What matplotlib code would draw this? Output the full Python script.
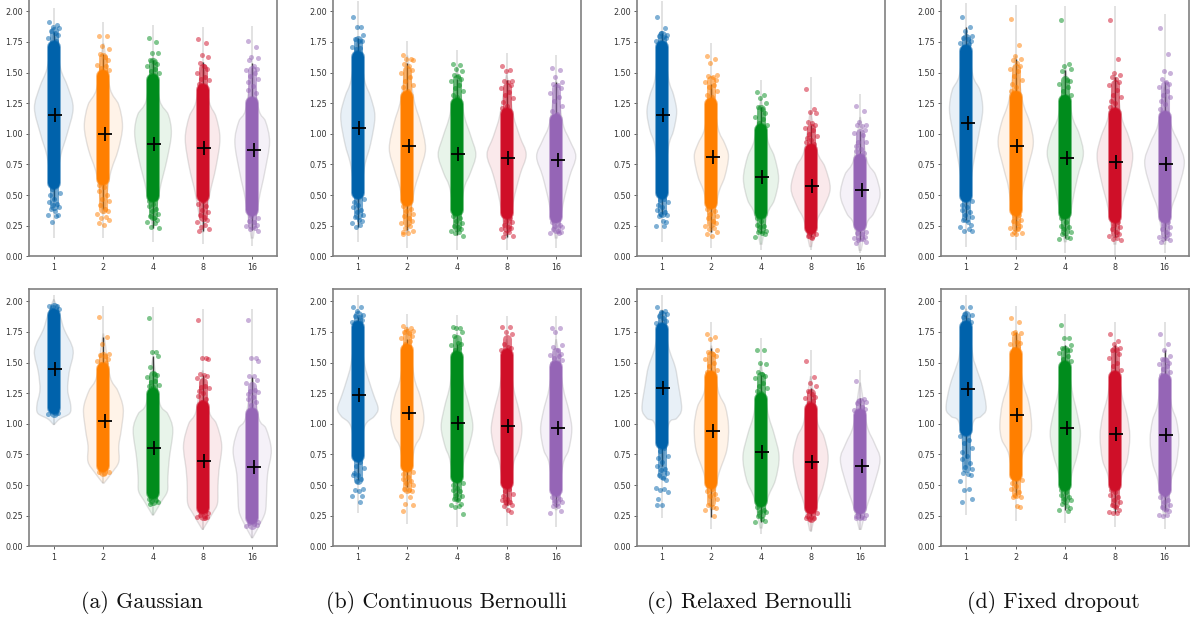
import matplotlib
matplotlib.use("Agg")
import matplotlib.pyplot as plt
import numpy as np
from matplotlib.path import Path
from matplotlib.patches import PathPatch
from matplotlib.colors import to_rgba

TICK_LABELS = ["1", "2", "4", "8", "16"]
COLORS = ["#0062ab", "#ff7f00", "#008c1c", "#cf0f28", "#9565b6"]
JITTER = [-0.09, 0.07, -0.02, 0.11, -0.06, 0.03, 0.09, -0.12, 0.05, -0.04, 0.12, -0.08, 0.01]
CAPTIONS = ["(a) Gaussian", "(b) Continuous Bernoulli", "(c) Relaxed Bernoulli", "(d) Fixed dropout"]

# panel a, top row
A1_MEAN = [1.155, 1.0, 0.92, 0.885, 0.865]
A1_CORE = [(0.57, 1.74), (0.6, 1.5), (0.46, 1.47), (0.46, 1.385), (0.35, 1.28)]
A1_TAIL = [(0.147, 2.03), (0.147, 1.915), (0.12, 1.89), (0.10, 1.875), (0.085, 1.88)]
A1_WHISK = [(0.46, 1.83), (0.39, 1.655), (0.23, 1.6), (0.21, 1.59), (0.215, 1.575)]
A1_VY = [[0.55, 0.815, 1.0, 1.21, 1.385, 1.535, 1.8], [0.35, 0.665, 0.87, 1.06, 1.235, 1.37, 1.7],
         [0.25, 0.54, 0.785, 1.0, 1.155, 1.275, 1.6], [0.2, 0.49, 0.73, 0.96, 1.14, 1.26, 1.55],
         [0.15, 0.46, 0.68, 0.93, 1.1, 1.195, 1.5]]
A1_VW = [[0.02, 0.135, 0.27, 0.39, 0.28, 0.135, 0.02], [0.02, 0.135, 0.30, 0.385, 0.31, 0.135, 0.02],
         [0.02, 0.135, 0.28, 0.37, 0.31, 0.135, 0.02], [0.02, 0.135, 0.27, 0.35, 0.27, 0.135, 0.02],
         [0.02, 0.135, 0.25, 0.35, 0.27, 0.135, 0.02]]
A1_PTS = [[1.91, 1.89, 1.87, 1.86, 1.84, 1.82, 1.81, 1.78, 1.76, 0.55, 0.52, 0.5, 0.47, 0.44, 0.43, 0.42, 0.40, 0.39, 0.37, 0.34, 0.34, 0.33, 0.28],
          [1.8, 1.8, 1.72, 1.69, 1.65, 1.63, 1.6, 1.56, 1.55, 1.54, 1.52, 0.58, 0.57, 0.53, 0.5, 0.47, 0.45, 0.42, 0.39, 0.37, 0.35, 0.32, 0.31, 0.30, 0.27, 0.26],
          [1.78, 1.75, 1.66, 1.66, 1.6, 1.59, 1.57, 1.55, 1.53, 1.51, 1.5, 0.45, 0.43, 0.41, 0.39, 0.37, 0.35, 0.33, 0.31, 0.3, 0.28, 0.27, 0.24, 0.23],
          [1.77, 1.74, 1.64, 1.63, 1.58, 1.55, 1.53, 1.5, 1.46, 1.45, 1.44, 1.41, 0.45, 0.43, 0.41, 0.38, 0.36, 0.34, 0.32, 0.3, 0.28, 0.26, 0.24, 0.22, 0.21],
          [1.76, 1.71, 1.63, 1.62, 1.6, 1.55, 1.53, 1.52, 1.5, 1.47, 1.45, 1.42, 1.39, 1.36, 1.33, 0.33, 0.31, 0.29, 0.28, 0.26, 0.25, 0.23, 0.22, 0.21]]

# panel a, bottom row
A2_MEAN = [1.45, 1.025, 0.805, 0.70, 0.648]
A2_CORE = [(1.10, 1.915), (0.625, 1.48), (0.405, 1.275), (0.285, 1.165), (0.20, 1.11)]
A2_TAIL = [(0.99, 2.05), (0.515, 1.96), (0.255, 1.95), (0.135, 1.94), (0.065, 1.94)]
A2_WHISK = [(1.2, 1.9), (0.7, 1.71), (0.5, 1.55), (0.4, 1.40), (0.3, 1.385)]
A2_VY = [[0.995, 1.04, 1.085, 1.155, 1.275, 1.42, 1.6, 1.77, 1.87, 2.0], [0.515, 0.6, 0.69, 0.82, 0.95, 1.125, 1.27, 1.385, 1.7],
         [0.255, 0.365, 0.45, 0.56, 0.72, 0.95, 1.08, 1.17, 1.5], [0.14, 0.27, 0.35, 0.49, 0.62, 0.825, 1.0, 1.10, 1.4],
         [0.07, 0.215, 0.295, 0.43, 0.59, 0.785, 0.96, 1.045, 1.35]]
A2_VW = [[0.01, 0.12, 0.32, 0.34, 0.28, 0.31, 0.39, 0.21, 0.135, 0.02], [0.01, 0.17, 0.31, 0.31, 0.36, 0.40, 0.29, 0.135, 0.02],
         [0.01, 0.17, 0.29, 0.30, 0.33, 0.40, 0.3, 0.135, 0.02], [0.01, 0.2, 0.3, 0.31, 0.33, 0.385, 0.28, 0.135, 0.02],
         [0.01, 0.2, 0.27, 0.29, 0.31, 0.385, 0.28, 0.135, 0.02]]
A2_PTS = [[1.96, 1.96, 1.95, 1.94, 1.93, 1.09, 1.09, 1.08],
          [1.87, 1.71, 1.65, 1.57, 1.56, 1.55, 1.53, 1.51, 1.5, 1.49, 0.61, 0.61, 0.60],
          [1.86, 1.585, 1.585, 1.55, 1.46, 1.41, 1.4, 1.38, 1.35, 1.34, 1.32, 1.31, 1.3, 0.39, 0.38, 0.37, 0.36, 0.35],
          [1.845, 1.54, 1.54, 1.53, 1.41, 1.4, 1.39, 1.37, 1.31, 1.3, 1.29, 1.27, 1.25, 1.23, 1.2, 1.18, 0.27, 0.26, 0.25, 0.24, 0.24, 0.23],
          [1.85, 1.54, 1.54, 1.51, 1.39, 1.39, 1.36, 1.33, 1.28, 1.27, 1.26, 1.24, 1.22, 1.2, 1.18, 1.15, 0.2, 0.19, 0.18, 0.175, 0.17]]

# panel b, top row
B1_MEAN = [1.05, 0.90, 0.833, 0.80, 0.785]
B1_CORE = [(0.49, 1.655), (0.43, 1.33), (0.35, 1.275), (0.325, 1.195), (0.295, 1.14)]
B1_TAIL = [(0.115, 2.08), (0.065, 1.76), (0.05, 1.685), (0.05, 1.66), (0.07, 1.645)]
B1_WHISK = [(0.24, 1.78), (0.215, 1.575), (0.175, 1.45), (0.155, 1.44), (0.31, 1.425)]
B1_VY = [[0.4, 0.73, 0.92, 1.14, 1.3, 1.44, 1.75], [0.2, 0.53, 0.705, 0.88, 1.085, 1.275, 1.6],
         [0.2, 0.54, 0.68, 0.83, 0.98, 1.17, 1.5], [0.15, 0.445, 0.665, 0.83, 0.975, 1.155, 1.45],
         [0.15, 0.42, 0.65, 0.815, 0.95, 1.085, 1.4]]
B1_VW = [[0.02, 0.135, 0.26, 0.345, 0.26, 0.135, 0.02], [0.02, 0.135, 0.26, 0.365, 0.27, 0.135, 0.02],
         [0.02, 0.135, 0.27, 0.38, 0.28, 0.135, 0.02], [0.02, 0.135, 0.27, 0.395, 0.27, 0.135, 0.02],
         [0.02, 0.135, 0.27, 0.395, 0.27, 0.135, 0.02]]
B1_PTS = [[1.955, 1.87, 1.87, 1.81, 1.77, 1.76, 1.76, 1.71, 1.7, 1.69, 0.47, 0.44, 0.42, 0.4, 0.38, 0.36, 0.34, 0.32, 0.3, 0.29, 0.27, 0.26, 0.24],
          [1.64, 1.61, 1.61, 1.6, 1.57, 1.55, 1.52, 1.5, 1.46, 1.43, 1.4, 1.38, 1.35, 0.41, 0.39, 0.37, 0.35, 0.33, 0.31, 0.29, 0.27, 0.25, 0.23, 0.21, 0.2, 0.19, 0.18],
          [1.57, 1.56, 1.53, 1.51, 1.48, 1.47, 1.45, 1.43, 1.4, 1.37, 1.35, 1.32, 1.3, 0.33, 0.31, 0.29, 0.27, 0.25, 0.24, 0.22, 0.21, 0.2, 0.19, 0.17],
          [1.55, 1.52, 1.51, 1.43, 1.43, 1.42, 1.4, 1.37, 1.34, 1.32, 1.29, 1.26, 1.23, 1.21, 0.31, 0.29, 0.28, 0.26, 0.24, 0.23, 0.22, 0.2, 0.19, 0.17, 0.16],
          [1.54, 1.52, 1.46, 1.42, 1.41, 1.4, 1.37, 1.33, 1.3, 1.27, 1.23, 1.19, 1.16, 0.28, 0.26, 0.25, 0.24, 0.22, 0.21, 0.2, 0.19, 0.19]]

# panel b, bottom row
B2_MEAN = [1.235, 1.085, 1.01, 0.98, 0.97]
B2_CORE = [(0.705, 1.82), (0.625, 1.63), (0.54, 1.575), (0.485, 1.59), (0.43, 1.49)]
B2_TAIL = [(0.27, 2.05), (0.18, 1.9), (0.16, 1.89), (0.165, 1.88), (0.16, 1.88)]
B2_WHISK = [(0.54, 1.87), (0.485, 1.69), (0.38, 1.655), (0.34, 1.615), (0.325, 1.505)]
B2_VY = [[0.7, 0.975, 1.06, 1.125, 1.235, 1.36, 1.49, 1.8], [0.45, 0.785, 0.895, 1.045, 1.22, 1.385, 1.75],
         [0.35, 0.69, 0.815, 0.975, 1.14, 1.33, 1.7], [0.3, 0.665, 0.785, 0.95, 1.11, 1.305, 1.65],
         [0.3, 0.665, 0.785, 0.95, 1.1, 1.305, 1.65]]
B2_VW = [[0.02, 0.135, 0.33, 0.41, 0.32, 0.22, 0.135, 0.02], [0.02, 0.135, 0.26, 0.335, 0.26, 0.135, 0.02],
         [0.02, 0.135, 0.24, 0.32, 0.25, 0.135, 0.02], [0.02, 0.135, 0.24, 0.31, 0.25, 0.135, 0.02],
         [0.02, 0.135, 0.25, 0.315, 0.26, 0.135, 0.02]]
B2_PTS = [[1.955, 1.955, 1.92, 1.89, 1.88, 1.87, 1.85, 1.83, 0.69, 0.66, 0.64, 0.6, 0.58, 0.58, 0.55, 0.53, 0.47, 0.46, 0.45, 0.41, 0.41, 0.365],
          [1.8, 1.78, 1.77, 1.76, 1.75, 1.74, 1.72, 1.7, 1.68, 1.65, 0.61, 0.59, 0.57, 0.55, 0.53, 0.52, 0.5, 0.47, 0.46, 0.45, 0.41, 0.4, 0.35, 0.34, 0.285],
          [1.79, 1.78, 1.78, 1.75, 1.72, 1.66, 1.65, 1.64, 1.62, 1.6, 0.52, 0.5, 0.48, 0.46, 0.45, 0.42, 0.41, 0.39, 0.38, 0.35, 0.34, 0.33, 0.32, 0.265],
          [1.79, 1.79, 1.75, 1.73, 1.65, 1.63, 1.62, 1.6, 0.47, 0.45, 0.43, 0.41, 0.39, 0.38, 0.36, 0.36, 0.34, 0.33, 0.3, 0.28],
          [1.78, 1.78, 1.75, 1.64, 1.63, 1.6, 1.57, 1.56, 1.55, 1.54, 1.52, 1.5, 0.42, 0.4, 0.39, 0.37, 0.36, 0.33, 0.33, 0.29, 0.27]]

# panel c, top row
C1_MEAN = [1.155, 0.81, 0.645, 0.575, 0.54]
C1_CORE = [(0.485, 1.74), (0.405, 1.275), (0.325, 1.06), (0.2, 0.895), (0.23, 0.815)]
C1_TAIL = [(0.12, 2.08), (0.065, 1.74), (0.055, 1.44), (0.05, 1.46), (0.025, 1.325)]
C1_WHISK = [(0.35, 1.82), (0.2, 1.41), (0.19, 1.22), (0.155, 1.07), (0.13, 1.02)]
C1_VY = [[0.55, 0.895, 1.03, 1.18, 1.315, 1.45, 1.8], [0.2, 0.5, 0.65, 0.815, 0.92, 1.045, 1.35],
         [0.1, 0.35, 0.46, 0.635, 0.815, 0.95, 1.25], [0.08, 0.295, 0.405, 0.555, 0.73, 0.855, 1.15],
         [0.05, 0.27, 0.35, 0.5, 0.665, 0.785, 1.1]]
C1_VW = [[0.02, 0.135, 0.24, 0.30, 0.24, 0.135, 0.02], [0.02, 0.135, 0.27, 0.345, 0.27, 0.135, 0.02],
         [0.02, 0.135, 0.27, 0.355, 0.27, 0.135, 0.02], [0.02, 0.135, 0.27, 0.395, 0.29, 0.135, 0.02],
         [0.02, 0.135, 0.27, 0.40, 0.31, 0.135, 0.02]]
C1_PTS = [[1.955, 1.86, 1.82, 1.81, 1.8, 1.79, 1.78, 1.76, 0.47, 0.46, 0.44, 0.42, 0.4, 0.38, 0.36, 0.35, 0.34, 0.33, 0.29, 0.28, 0.25, 0.25],
          [1.635, 1.61, 1.58, 1.48, 1.47, 1.46, 1.44, 1.42, 1.4, 1.38, 1.35, 1.32, 1.3, 0.39, 0.37, 0.35, 0.33, 0.31, 0.29, 0.27, 0.25, 0.23, 0.22, 0.2, 0.18, 0.17],
          [1.34, 1.32, 1.29, 1.25, 1.22, 1.2, 1.17, 1.14, 1.12, 1.09, 1.07, 0.31, 0.29, 0.26, 0.25, 0.24, 0.21, 0.2, 0.19, 0.18, 0.16],
          [1.365, 1.2, 1.18, 1.17, 1.1, 1.09, 1.07, 1.05, 1.03, 1.0, 0.98, 0.97, 0.95, 0.93, 0.92, 0.19, 0.18, 0.17, 0.15],
          [1.23, 1.185, 1.1, 1.07, 1.07, 1.06, 1.03, 1.01, 0.99, 0.93, 0.93, 0.9, 0.88, 0.86, 0.84, 0.22, 0.2, 0.19, 0.18, 0.16, 0.15, 0.14, 0.13, 0.12, 0.11]]

# panel c, bottom row
C2_MEAN = [1.29, 0.94, 0.77, 0.69, 0.66]
C2_CORE = [(0.815, 1.805), (0.485, 1.41), (0.34, 1.235), (0.285, 1.155), (0.285, 1.1)]
C2_TAIL = [(0.235, 2.05), (0.145, 1.835), (0.105, 1.7), (0.12, 1.6), (0.135, 1.44)]
C2_WHISK = [(0.655, 1.93), (0.24, 1.615), (0.2, 1.4), (0.25, 1.29), (0.23, 1.21)]
C2_VY = [[0.65, 0.99, 1.045, 1.125, 1.33, 1.465, 1.63, 1.9], [0.3, 0.57, 0.785, 0.98, 1.14, 1.275, 1.6],
         [0.15, 0.39, 0.54, 0.73, 0.91, 1.1, 1.45], [0.13, 0.35, 0.515, 0.72, 0.895, 1.02, 1.35],
         [0.14, 0.325, 0.49, 0.705, 0.84, 0.99, 1.3]]
C2_VW = [[0.02, 0.135, 0.30, 0.40, 0.33, 0.27, 0.135, 0.02], [0.02, 0.135, 0.31, 0.345, 0.28, 0.135, 0.02],
         [0.02, 0.135, 0.29, 0.365, 0.27, 0.135, 0.02], [0.02, 0.135, 0.27, 0.355, 0.27, 0.135, 0.02],
         [0.02, 0.135, 0.27, 0.40, 0.29, 0.135, 0.02]]
C2_PTS = [[1.955, 1.92, 1.91, 1.9, 1.88, 1.86, 1.84, 1.82, 0.8, 0.78, 0.74, 0.72, 0.69, 0.66, 0.63, 0.62, 0.6, 0.58, 0.56, 0.54, 0.48, 0.47, 0.46, 0.44, 0.39, 0.34, 0.335],
          [1.73, 1.71, 1.69, 1.6, 1.59, 1.57, 1.55, 1.53, 1.5, 1.47, 1.44, 1.42, 0.47, 0.45, 0.43, 0.41, 0.39, 0.34, 0.32, 0.31, 0.3, 0.25],
          [1.6, 1.6, 1.5, 1.49, 1.42, 1.41, 1.39, 1.37, 1.33, 1.31, 1.29, 1.27, 1.25, 0.325, 0.3, 0.28, 0.28, 0.25, 0.22, 0.21, 0.2],
          [1.51, 1.38, 1.33, 1.31, 1.27, 1.24, 1.22, 1.21, 1.19, 1.17, 0.27, 0.25, 0.24, 0.23, 0.23, 0.22],
          [1.35, 1.2, 1.19, 1.18, 1.17, 1.14, 1.12, 1.11, 1.1, 0.27, 0.26, 0.25, 0.24, 0.23, 0.23]]

# panel d, top row
D1_MEAN = [1.09, 0.90, 0.80, 0.77, 0.75]
D1_CORE = [(0.46, 1.71), (0.35, 1.33), (0.325, 1.3), (0.295, 1.195), (0.295, 1.165)]
D1_TAIL = [(0.08, 2.07), (0.055, 2.05), (0.025, 2.04), (0.01, 2.04), (0.03, 1.98)]
D1_WHISK = [(0.30, 1.875), (0.215, 1.61), (0.15, 1.52), (0.16, 1.465), (0.13, 1.425)]
D1_VY = [[0.4, 0.73, 1.0, 1.195, 1.355, 1.48, 1.8], [0.2, 0.54, 0.73, 0.92, 1.085, 1.275, 1.6],
         [0.12, 0.42, 0.65, 0.835, 1.0, 1.155, 1.5], [0.1, 0.39, 0.61, 0.815, 0.975, 1.14, 1.45],
         [0.1, 0.38, 0.53, 0.76, 0.92, 1.07, 1.35]]
D1_VW = [[0.02, 0.135, 0.26, 0.335, 0.28, 0.135, 0.02], [0.02, 0.135, 0.25, 0.355, 0.29, 0.135, 0.02],
         [0.02, 0.135, 0.25, 0.365, 0.28, 0.135, 0.02], [0.02, 0.135, 0.27, 0.36, 0.28, 0.135, 0.02],
         [0.02, 0.135, 0.26, 0.40, 0.29, 0.135, 0.02]]
D1_PTS = [[1.955, 1.87, 1.84, 1.8, 1.78, 1.77, 1.76, 1.74, 1.73, 1.71, 0.45, 0.42, 0.4, 0.38, 0.36, 0.34, 0.32, 0.3, 0.28, 0.26, 0.24, 0.22, 0.21, 0.21],
          [1.935, 1.725, 1.635, 1.61, 1.6, 1.58, 1.55, 1.53, 1.51, 1.47, 1.44, 1.41, 1.38, 1.35, 0.34, 0.32, 0.3, 0.29, 0.27, 0.25, 0.23, 0.22, 0.2, 0.19, 0.18, 0.18],
          [1.93, 1.57, 1.55, 1.53, 1.51, 1.44, 1.43, 1.41, 1.38, 1.35, 1.32, 0.31, 0.28, 0.25, 0.24, 0.22, 0.2, 0.18, 0.16, 0.15, 0.14],
          [1.925, 1.61, 1.5, 1.48, 1.46, 1.45, 1.42, 1.4, 1.36, 1.32, 1.3, 1.27, 1.25, 1.22, 0.28, 0.26, 0.24, 0.22, 0.2, 0.18, 0.17, 0.15, 0.14, 0.135],
          [1.86, 1.655, 1.515, 1.5, 1.45, 1.42, 1.41, 1.38, 1.35, 1.32, 1.3, 1.27, 1.24, 1.2, 0.28, 0.26, 0.24, 0.22, 0.2, 0.18, 0.16, 0.15, 0.14, 0.13, 0.12]]

# panel d, bottom row
D2_MEAN = [1.285, 1.07, 0.97, 0.92, 0.905]
D2_CORE = [(0.92, 1.82), (0.555, 1.6), (0.475, 1.49), (0.475, 1.41), (0.43, 1.385)]
D2_TAIL = [(0.255, 2.05), (0.21, 1.96), (0.19, 1.9), (0.16, 1.835), (0.145, 1.835)]
D2_WHISK = [(0.72, 1.89), (0.42, 1.75), (0.295, 1.645), (0.27, 1.645), (0.3, 1.6)]
D2_VY = [[0.65, 1.0, 1.06, 1.125, 1.305, 1.465, 1.56, 1.9], [0.45, 0.745, 0.87, 0.99, 1.165, 1.36, 1.7],
         [0.35, 0.595, 0.745, 0.92, 1.085, 1.275, 1.6], [0.3, 0.57, 0.705, 0.895, 1.06, 1.25, 1.6],
         [0.25, 0.54, 0.68, 0.87, 1.03, 1.165, 1.5]]
D2_VW = [[0.02, 0.135, 0.30, 0.405, 0.33, 0.2, 0.135, 0.02], [0.02, 0.135, 0.28, 0.32, 0.27, 0.135, 0.02],
         [0.02, 0.135, 0.24, 0.305, 0.24, 0.135, 0.02], [0.02, 0.135, 0.25, 0.30, 0.25, 0.135, 0.02],
         [0.02, 0.135, 0.24, 0.29, 0.24, 0.135, 0.02]]
D2_PTS = [[1.955, 1.955, 1.9, 1.89, 1.87, 1.85, 1.83, 0.9, 0.87, 0.84, 0.8, 0.77, 0.74, 0.71, 0.68, 0.65, 0.63, 0.6, 0.59, 0.58, 0.53, 0.47, 0.46, 0.39, 0.36],
          [1.86, 1.83, 1.75, 1.74, 1.74, 1.67, 1.66, 1.65, 1.63, 1.61, 0.54, 0.52, 0.49, 0.47, 0.44, 0.42, 0.4, 0.4, 0.33, 0.32],
          [1.805, 1.7, 1.7, 1.645, 1.62, 1.6, 1.6, 1.58, 1.55, 1.53, 1.51, 0.46, 0.44, 0.42, 0.4, 0.39, 0.38, 0.35, 0.33, 0.31, 0.3, 0.29],
          [1.735, 1.68, 1.65, 1.62, 1.6, 1.6, 1.57, 1.54, 1.5, 1.47, 1.44, 0.46, 0.44, 0.42, 0.4, 0.38, 0.36, 0.34, 0.32, 0.3, 0.28, 0.27, 0.27],
          [1.73, 1.655, 1.6, 1.55, 1.53, 1.52, 1.5, 1.49, 1.47, 1.45, 1.42, 1.4, 0.42, 0.4, 0.38, 0.36, 0.34, 0.32, 0.3, 0.29, 0.26, 0.26, 0.25]]

TOP_ROW = [
    (A1_MEAN, A1_CORE, A1_TAIL, A1_WHISK, A1_VY, A1_VW, A1_PTS),
    (B1_MEAN, B1_CORE, B1_TAIL, B1_WHISK, B1_VY, B1_VW, B1_PTS),
    (C1_MEAN, C1_CORE, C1_TAIL, C1_WHISK, C1_VY, C1_VW, C1_PTS),
    (D1_MEAN, D1_CORE, D1_TAIL, D1_WHISK, D1_VY, D1_VW, D1_PTS),
]
BOTTOM_ROW = [
    (A2_MEAN, A2_CORE, A2_TAIL, A2_WHISK, A2_VY, A2_VW, A2_PTS),
    (B2_MEAN, B2_CORE, B2_TAIL, B2_WHISK, B2_VY, B2_VW, B2_PTS),
    (C2_MEAN, C2_CORE, C2_TAIL, C2_WHISK, C2_VY, C2_VW, C2_PTS),
    (D2_MEAN, D2_CORE, D2_TAIL, D2_WHISK, D2_VY, D2_VW, D2_PTS),
]

W, H = 1194, 619
AX_LEFT = [29, 333, 637, 941.3]
AX_WIDTH = 248
AX_HEIGHT = 257
ROW_BOTTOM = [256.4, 546.4]
CAPTION_X = [142, 446, 749.5, 1053]


def violin_path(x, levels, widths):
    # closed outline through the read widths, smooth with bezier segments
    right = [(x + w, y) for y, w in zip(levels, widths)]
    left = [(x - w, y) for y, w in zip(levels, widths)][::-1]
    pts = np.array(right + left)
    verts = [pts[0]]
    codes = [Path.MOVETO]
    n = len(pts)
    for i in range(n - 1):
        p0, p1, p2, p3 = pts[max(i - 1, 0)], pts[i], pts[i + 1], pts[min(i + 2, n - 1)]
        verts += [p1 + (p2 - p0) / 6, p2 - (p3 - p1) / 6, p2]
        codes += [Path.CURVE4] * 3
    verts.append(pts[0])
    codes.append(Path.CLOSEPOLY)
    return Path(verts, codes)


def draw_strip(ax, i, color, core, pts):
    # sparse ends of the strip reach halfway into the loose points
    lo, hi = core
    upper = [p for p in pts if p > hi]
    lower = [p for p in pts if p < lo]
    fringe_hi = np.median(upper) if upper else hi
    fringe_lo = np.median(lower) if lower else lo
    ax.vlines(i, fringe_lo, fringe_hi, color=color, alpha=0.55, lw=6.5, capstyle="round", zorder=4)
    ax.vlines(i, lo + 0.03, hi - 0.03, color=color, alpha=0.55, lw=10, capstyle="round", zorder=4)
    ax.vlines(i, lo + 0.03, hi - 0.03, color=color, lw=8.6, capstyle="round", zorder=4)
    offsets = [JITTER[k % len(JITTER)] for k in range(len(pts))]
    ax.scatter(i + np.array(offsets), pts, s=13, color=color, alpha=0.5, linewidths=0, zorder=5)


def draw_panel(ax, panel):
    means, core, tail, whisk, vy, vw, pts = panel
    for i, color in enumerate(COLORS):
        ax.vlines(i, tail[i][0], tail[i][1], color="#808080", alpha=0.25, lw=1.3, zorder=1)
        ax.add_patch(PathPatch(violin_path(i, vy[i], vw[i]), facecolor=to_rgba(color, 0.09),
                               edgecolor=(0.5, 0.5, 0.5, 0.22), lw=1.0, zorder=2))
        ax.vlines(i, whisk[i][0], whisk[i][1], color="#222222", alpha=0.85, lw=1.0, zorder=3)
        draw_strip(ax, i, color, core[i], pts[i])
        ax.plot(i + 0.03, means[i], "+", color="black", ms=10, mew=1.3, zorder=6)

    ax.set_xlim(-0.5, 4.5)
    ax.set_ylim(0, 2.097)
    ax.set_xticks(range(5))
    ax.set_xticklabels(TICK_LABELS)
    ax.set_yticks(np.arange(0, 2.01, 0.25))
    ax.set_yticklabels(["%.2f" % v for v in np.arange(0, 2.01, 0.25)])
    ax.tick_params(labelsize=5.8, length=2, width=0.6, pad=2.5, color="#444444", labelcolor="#333333")
    for spine in ax.spines.values():
        spine.set_color("#808080")
        spine.set_linewidth(1.2)


fig = plt.figure(figsize=(W / 100, H / 100), dpi=100, facecolor="white")
for bottom, row in zip(ROW_BOTTOM, [TOP_ROW, BOTTOM_ROW]):
    for left, panel in zip(AX_LEFT, row):
        ax = fig.add_axes([left / W, (H - bottom) / H, AX_WIDTH / W, AX_HEIGHT / H])
        draw_panel(ax, panel)

for x, caption in zip(CAPTION_X, CAPTIONS):
    fig.text(x / W, (H - 603) / H, caption, family=["cmr10", "DejaVu Serif"], fontsize=15.8,
             ha="center", va="center", color="#111111")

fig.savefig("out.png", dpi=100)
